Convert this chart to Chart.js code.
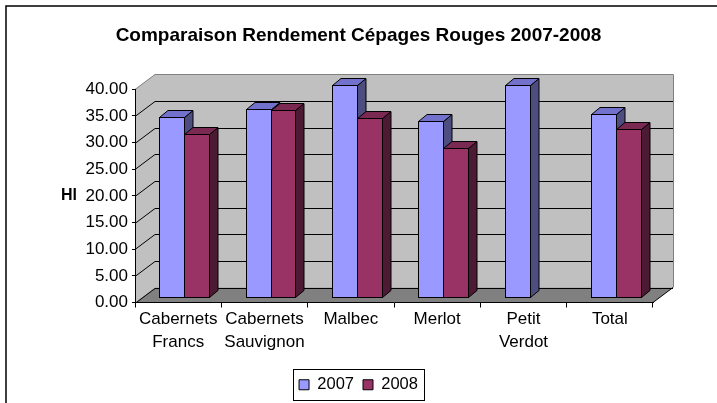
<!DOCTYPE html>
<html>
<head>
<meta charset="utf-8">
<script src="https://cdn.jsdelivr.net/npm/chart.js@4.4.0/dist/chart.umd.min.js"></script>
<style>
  html, body { margin: 0; padding: 0; background: #fff; }
  #wrap { width: 717px; height: 403px; }
</style>
</head>
<body>
<div id="wrap"><canvas id="rendChart" width="717" height="403"></canvas></div>
<script>
// values (Hl)
var cepages = [['Cabernets', 'Francs'], ['Cabernets', 'Sauvignon'], 'Malbec', 'Merlot', ['Petit', 'Verdot'], 'Total'];
var annees = ['2007', '2008'];
var rend2007 = [33.8, 35.3, 39.9, 33.1, 39.9, 34.5];
var rend2008 = [30.6, 35.2, 33.6, 28.1, null, 31.6];
var yTicks = [0, 5, 10, 15, 20, 25, 30, 35, 40];

var police = '"Liberation Sans", Arial, sans-serif';

// couleurs face / dessus / cote
var faces = [
    {front: '#9999FF', top: '#7272CC', side: '#4D4D80'},
    {front: '#993366', top: '#7A2952', side: '#4D1A33'}
];

var WALL_DX = 20, WALL_DY = -15;   // profondeur des murs
var BAR_SX = 6, BAR_SY = -5;       // decalage de la face avant des barres
var BAR_DX = 8.5, BAR_DY = -7;     // profondeur des barres

var effet3d = {
    id: 'effet3d',
    beforeDraw: function (chart) {
        var ctx = chart.ctx;
        var a = chart.chartArea;
        var ys = chart.scales.y;
        ctx.save();
        // mur du fond
        ctx.fillStyle = '#C0C0C0';
        ctx.fillRect(a.left + WALL_DX, a.top + WALL_DY, a.right - a.left, a.bottom - a.top);
        // mur de gauche
        ctx.beginPath();
        ctx.moveTo(a.left, a.top);
        ctx.lineTo(a.left + WALL_DX, a.top + WALL_DY);
        ctx.lineTo(a.left + WALL_DX, a.bottom + WALL_DY);
        ctx.lineTo(a.left, a.bottom);
        ctx.closePath();
        ctx.fill();
        // sol
        ctx.fillStyle = '#808080';
        ctx.beginPath();
        ctx.moveTo(a.left, a.bottom);
        ctx.lineTo(a.right, a.bottom);
        ctx.lineTo(a.right + WALL_DX, a.bottom + WALL_DY);
        ctx.lineTo(a.left + WALL_DX, a.bottom + WALL_DY);
        ctx.closePath();
        ctx.fill();
        ctx.strokeStyle = '#000';
        ctx.lineWidth = 1;
        ctx.beginPath();
        ctx.moveTo(a.right, a.bottom);
        ctx.lineTo(a.right + WALL_DX, a.bottom + WALL_DY);
        ctx.stroke();
        // lignes de grille
        yTicks.forEach(function (t) {
            var py = Math.round(ys.getPixelForValue(t)) + 0.5;
            ctx.strokeStyle = (t === 40) ? '#808080' : '#000';
            ctx.beginPath();
            ctx.moveTo(a.left, py);
            ctx.lineTo(a.left + WALL_DX, py + WALL_DY);
            ctx.lineTo(a.right + WALL_DX, py + WALL_DY);
            ctx.stroke();
        });
        // bords du mur
        ctx.strokeStyle = '#808080';
        ctx.beginPath();
        ctx.moveTo(a.right + WALL_DX + 0.5, a.top + WALL_DY);
        ctx.lineTo(a.right + WALL_DX + 0.5, a.bottom + WALL_DY);
        ctx.stroke();
        ctx.restore();
    },
    beforeDatasetsDraw: function (chart) {
        var ctx = chart.ctx;
        var metas = [chart.getDatasetMeta(0), chart.getDatasetMeta(1)];
        ctx.save();
        ctx.strokeStyle = '#000';
        ctx.lineWidth = 1;
        ctx.lineJoin = 'miter';
        for (var i = 0; i < cepages.length; i++) {
            for (var d = 0; d < metas.length; d++) {
                var bar = metas[d].data[i];
                var val = chart.data.datasets[d].data[i];
                if (val === null || val === undefined) continue;
                var w = bar.width;
                var l = Math.round(bar.x - w / 2 + BAR_SX) + 0.5;
                var r = Math.round(bar.x + w / 2 + BAR_SX) + 0.5;
                var t = Math.round(bar.y + BAR_SY) + 0.5;
                var b = Math.round(bar.base + BAR_SY) + 0.5;
                var c = faces[d];
                // cote
                ctx.fillStyle = c.side;
                ctx.beginPath();
                ctx.moveTo(r, t);
                ctx.lineTo(r + BAR_DX, t + BAR_DY);
                ctx.lineTo(r + BAR_DX, b + BAR_DY);
                ctx.lineTo(r, b);
                ctx.closePath();
                ctx.fill();
                ctx.stroke();
                // dessus
                ctx.fillStyle = c.top;
                ctx.beginPath();
                ctx.moveTo(l, t);
                ctx.lineTo(l + BAR_DX, t + BAR_DY);
                ctx.lineTo(r + BAR_DX, t + BAR_DY);
                ctx.lineTo(r, t);
                ctx.closePath();
                ctx.fill();
                ctx.stroke();
                // face
                ctx.fillStyle = c.front;
                ctx.fillRect(l, t, r - l, b - t);
                ctx.strokeRect(l, t, r - l, b - t);
            }
        }
        ctx.restore();
        return false;
    },
    afterDraw: function (chart) {
        var ctx = chart.ctx;
        var a = chart.chartArea;
        ctx.save();
        // titre de l'axe
        ctx.font = 'bold 16px ' + police;
        ctx.fillStyle = '#000';
        ctx.textAlign = 'right';
        ctx.textBaseline = 'middle';
        ctx.fillText('Hl', a.left - 58, chart.scales.y.getPixelForValue(20));
        // cadre de la legende
        var hb = chart.legend.legendHitBoxes;
        if (hb && hb.length) {
            var x0 = hb[0].left, x1 = hb[hb.length - 1].left + hb[hb.length - 1].width;
            var yc = hb[0].top + hb[0].height / 2;
            ctx.strokeStyle = '#000';
            ctx.lineWidth = 1;
            ctx.strokeRect(Math.round(x0 - 6) + 0.5, Math.round(yc - 16) + 0.5,
                Math.round(x1 - x0 + 12), 31);
        }
        // cadre du graphique
        ctx.lineWidth = 1.5;
        ctx.strokeRect(6, 6, 900, 900);
        ctx.restore();
    }
};

var ctx = document.getElementById('rendChart').getContext('2d');
var chart = new Chart(ctx, {
    type: 'bar',
    data: {
        labels: cepages,
        datasets: [
            {label: annees[0], data: rend2007, backgroundColor: faces[0].front, borderColor: '#000', borderWidth: 1},
            {label: annees[1], data: rend2008, backgroundColor: faces[1].front, borderColor: '#000', borderWidth: 1}
        ]
    },
    options: {
        responsive: false,
        animation: false,
        categoryPercentage: 0.577,
        barPercentage: 1,
        layout: {padding: {left: 0, right: 0, top: 0, bottom: 0}},
        plugins: {
            title: {
                display: true,
                text: 'Comparaison Rendement Cépages Rouges 2007-2008',
                color: '#000',
                font: {family: police, size: 19, weight: 'bold', lineHeight: 1.2},
                padding: {top: 24, bottom: 42.5}
            },
            legend: {
                position: 'bottom',
                labels: {
                    color: '#000',
                    font: {family: police, size: 16.5},
                    boxWidth: 10,
                    boxHeight: 10,
                    padding: 9
                }
            },
            tooltip: {enabled: false}
        },
        scales: {
            x: {
                offset: true,
                grid: {display: true, drawOnChartArea: false, offset: true, tickLength: 5, color: '#000'},
                border: {display: true, color: '#000'},
                ticks: {color: '#000', font: {family: police, size: 17, lineHeight: 1.32}, padding: 1, maxRotation: 0, autoSkip: false},
                afterFit: function (scale) { scale.height = 65; }
            },
            y: {
                min: 0,
                max: 40,
                grid: {display: true, drawOnChartArea: false, tickLength: 3, color: '#000'},
                border: {display: true, color: '#000'},
                ticks: {
                    stepSize: 5,
                    color: '#000',
                    padding: 4,
                    font: {family: police, size: 17},
                    callback: function (v) { return v.toFixed(2); }
                },
                afterFit: function (scale) { scale.width = 135; }
            },
            // marge droite (place du mur en profondeur)
            marge: {
                type: 'linear',
                position: 'right',
                display: true,
                grid: {display: false},
                border: {display: false},
                ticks: {display: false},
                afterFit: function (scale) { scale.width = 64; }
            }
        }
    },
    plugins: [effet3d]
});
</script>
</body>
</html>
